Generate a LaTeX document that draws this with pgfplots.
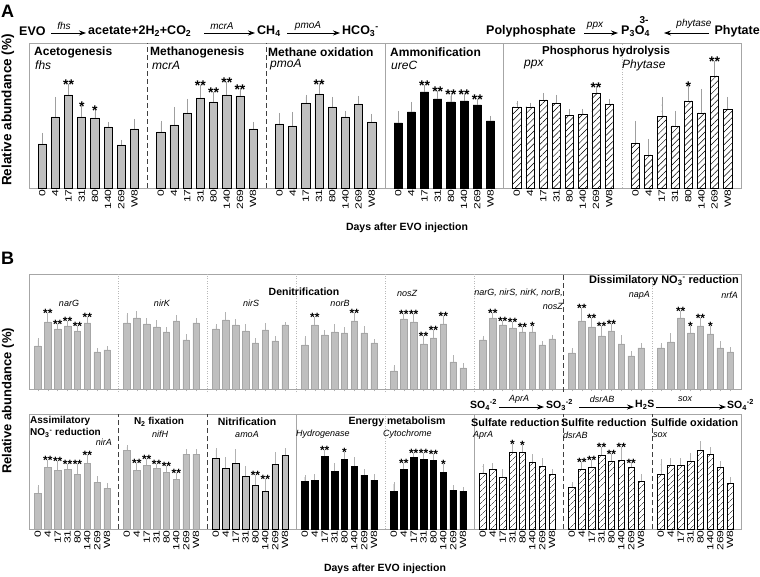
\documentclass[border=0pt]{standalone}
\usepackage{fontspec}
\setmainfont{Liberation Sans}
\newfontfamily\tickfont{Liberation Sans}[FakeStretch=1.35]
\usepackage{pgfplots}
\pgfplotsset{compat=1.18}
\usepackage{pgfplotstable}
\usetikzlibrary{patterns.meta,arrows.meta}
\newcommand\fs[1]{\fontsize{#1}{#1}\selectfont}

% ---------- Panel A data (bar height, upper error, significance) ----------
\pgfplotstableread[row sep=\\]{h e s\\ 44 9 {}\\ 71 18 {}\\ 93 9 **\\ 71 9 *\\ 70 6 *\\ 61 3 {}\\ 43 3 {}\\ 59 8 {}\\}\tfhs
\pgfplotstableread[row sep=\\]{h e s\\ 56 9 {}\\ 63 16 {}\\ 75 12 {}\\ 90 11 **\\ 86 8 **\\ 93 11 **\\ 92 5 **\\ 59 5 {}\\}\tmcrA
\pgfplotstableread[row sep=\\]{h e s\\ 64 9 {}\\ 62 12 {}\\ 85 6 {}\\ 94 8 **\\ 81 8 {}\\ 71 4 {}\\ 84 6 {}\\ 66 6 {}\\}\tpmoA
\pgfplotstableread[row sep=\\]{h e s\\ 65 10 {}\\ 76 8 {}\\ 96 5 **\\ 89 6 **\\ 86 6 **\\ 87 5 **\\ 83 4 **\\ 67 3 {}\\}\tureC
\pgfplotstableread[row sep=\\]{h e s\\ 81 4 {}\\ 81 2 {}\\ 88 5 {}\\ 85 6 {}\\ 73 4 {}\\ 74 3 {}\\ 95 4 **\\ 84 3 {}\\}\tppx
\pgfplotstableread[row sep=\\]{h e s\\ 45 20 {}\\ 33 14 {}\\ 72 17 {}\\ 62 13 {}\\ 87 13 *\\ 75 22 {}\\ 112 13 **\\ 79 10 {}\\}\tphy
% ---------- Panel B, upper row ----------
\pgfplotstableread[row sep=\\]{h e s\\ 43 6 {}\\ 67 7 **\\ 60 3 **\\ 63 3 **\\ 58 3 **\\ 66 4 **\\ 37 2 {}\\ 39 2 {}\\}\tnarG
\pgfplotstableread[row sep=\\]{h e s\\ 66 8 {}\\ 71 5 {}\\ 65 4 {}\\ 62 5 {}\\ 57 3 {}\\ 68 4 {}\\ 49 4 {}\\ 66 3 {}\\}\tnirK
\pgfplotstableread[row sep=\\]{h e s\\ 60 3 {}\\ 69 6 {}\\ 64 4 {}\\ 58 5 {}\\ 46 3 {}\\ 59 5 {}\\ 48 3 {}\\ 64 1 {}\\}\tnirS
\pgfplotstableread[row sep=\\]{h e s\\ 44 7 {}\\ 64 6 **\\ 54 3 {}\\ 57 6 {}\\ 56 4 {}\\ 68 6 **\\ 56 5 {}\\ 46 2 {}\\}\tnorB
\pgfplotstableread[row sep=\\]{h e s\\ 18 4 {}\\ 70 3 **\\ 67 6 **\\ 45 6 **\\ 51 6 **\\ 65 6 **\\ 27 5 {}\\ 21 3 {}\\}\tnosZ
\pgfplotstableread[row sep=\\]{h e s\\ 49 2 {}\\ 71 3 **\\ 64 2 **\\ 61 4 **\\ 57 3 **\\ 57 4 *\\ 44 2 {}\\ 50 2 {}\\}\tcomb
\pgfplotstableread[row sep=\\]{h e s\\ 36 3 {}\\ 68 11 **\\ 62 7 **\\ 53 8 **\\ 58 5 **\\ 45 7 {}\\ 33 3 {}\\ 41 3 {}\\}\tnapA
\pgfplotstableread[row sep=\\]{h e s\\ 41 3 {}\\ 47 7 {}\\ 71 5 **\\ 56 5 *\\ 63 6 **\\ 55 6 *\\ 41 5 {}\\ 37 3 {}\\}\tnrfA
% ---------- Panel B, lower row ----------
\pgfplotstableread[row sep=\\]{h e s\\ 36 6 {}\\ 62 5 **\\ 59 7 **\\ 60 3 **\\ 55 8 **\\ 66 6 **\\ 47 4 {}\\ 41 3 {}\\}\tnirA
\pgfplotstableread[row sep=\\]{h e s\\ 79 3 {}\\ 59 5 **\\ 64 4 **\\ 61 2 **\\ 57 4 **\\ 50 4 **\\ 75 3 {}\\ 75 3 {}\\}\tnifH
\pgfplotstableread[row sep=\\]{h e s\\ 71 8 {}\\ 61 9 {}\\ 66 12 {}\\ 53 8 {}\\ 44 8 **\\ 38 10 **\\ 65 10 {}\\ 74 5 {}\\}\tamoA
\pgfplotstableread[row sep=\\]{h e s\\ 48 4 {}\\ 49 4 {}\\ 73 4 **\\ 58 6 {}\\ 70 5 *\\ 63 7 {}\\ 54 4 {}\\ 49 4 {}\\}\thyd
\pgfplotstableread[row sep=\\]{h e s\\ 38 7 {}\\ 60 4 **\\ 72 2 **\\ 70 4 **\\ 69 4 **\\ 57 6 *\\ 39 3 {}\\ 38 2 {}\\}\tcyt
\pgfplotstableread[row sep=\\]{h e s\\ 56 7 {}\\ 60 4 {}\\ 52 6 {}\\ 77 6 *\\ 77 5 *\\ 67 6 {}\\ 63 6 {}\\ 55 3 {}\\}\taprA
\pgfplotstableread[row sep=\\]{h e s\\ 42 3 {}\\ 60 5 **\\ 62 5 **\\ 74 6 **\\ 68 5 **\\ 69 11 **\\ 62 2 **\\ 48 5 {}\\}\tdsr
\pgfplotstableread[row sep=\\]{h e s\\ 55 13 {}\\ 64 5 {}\\ 64 5 {}\\ 68 6 {}\\ 79 7 {}\\ 75 5 {}\\ 62 4 {}\\ 46 4 {}\\}\tsox

\pgfplotsset{
 Aerr/.style={error bars/y dir=plus, error bars/y explicit,
   error bars/error bar style={draw=gray!75, line width=0.7pt, solid},
   error bars/error mark options={draw=gray!75, line width=0.7pt, mark size=2.2pt, solid}},
 Berr/.style={error bars/y dir=plus, error bars/y explicit,
   error bars/error bar style={draw=gray!60, line width=0.6pt, solid},
   error bars/error mark options={draw=gray!60, line width=0.6pt, mark size=1.8pt, solid}},
 Abar/.style={ybar, bar shift=0pt, bar width=8.2pt, line width=0.7pt, draw=black},
 Agray/.style={Abar, fill=gray!50, Aerr},
 Ablk/.style={Abar, fill=black, Aerr},
 Ahat/.style={Abar, pattern={Lines[angle=45,distance=4.5pt,line width=0.5pt]}, Aerr},
 Bbar/.style={ybar, bar shift=0pt, bar width=6.5pt, line width=0.6pt},
 Bgray/.style={Bbar, fill=gray!50, draw=gray!70, Berr},
 Bgrayk/.style={Bbar, fill=gray!50, draw=black, Berr},
 Bblk/.style={Bbar, fill=black, draw=black, Berr},
 Bhat/.style={Bbar, draw=black, pattern={Lines[angle=45,distance=4pt,line width=0.45pt]}, Berr},
 Astars/.style={draw=none, mark=none, nodes near coords, point meta=explicit symbolic,
   nodes near coords style={font=\bfseries\fs{14}, anchor=south, inner sep=0pt, yshift=-3.5pt, text=black}},
 Bstars/.style={draw=none, mark=none, nodes near coords, point meta=explicit symbolic,
   nodes near coords style={font=\bfseries\fs{12}, anchor=south, inner sep=0pt, yshift=-3pt, text=black}},
 rowaxis/.style={scale only axis, width=712pt, ymin=0, clip=false, ytick=\empty,
   axis line style={draw=gray!70, line width=0.7pt},
   xticklabel style={font=\tickfont\fs{9}, rotate=90, anchor=east, inner sep=1.2pt},
   /pgf/number format/assume math mode=true},
}
\newcommand\bars[4]{%
 \addplot[#2] table[x expr=\coordindex+#1, y=h, y error=e]{#4};
 \addplot[#3] table[x expr=\coordindex+#1, y expr=\thisrow{h}+\thisrow{e}, meta=s]{#4};
}
\tikzset{dv/.style={black!75, line width=0.7pt, dash pattern=on 5pt off 3pt},
 dt/.style={gray!55, line width=0.6pt, dash pattern=on 1pt off 1.5pt},
 sl/.style={gray!70, line width=0.7pt},
 ar/.style={line width=0.8pt, -{Stealth[length=7pt,width=5pt]}}}

\begin{document}
\begin{tikzpicture}
\useasboundingbox (0,0) rectangle (760pt,576pt);
% ================= Panel A =================
\begin{axis}[rowaxis, at={(29pt,388pt)}, anchor=south west, height=145pt, xmin=0, xmax=54, ymax=145,
 major tick length=0pt,
 xtick={1,2,3,4,5,6,7,8,10,11,12,13,14,15,16,17,19,20,21,22,23,24,25,26,28,29,30,31,32,33,34,35,37,38,39,40,41,42,43,44,46,47,48,49,50,51,52,53},
 xticklabels={0,4,17,31,80,140,269,W8,0,4,17,31,80,140,269,W8,0,4,17,31,80,140,269,W8,0,4,17,31,80,140,269,W8,0,4,17,31,80,140,269,W8,0,4,17,31,80,140,269,W8}]
\bars{1}{Agray}{Astars}{\tfhs}
\bars{10}{Agray}{Astars}{\tmcrA}
\bars{19}{Agray}{Astars}{\tpmoA}
\bars{28}{Ablk}{Astars}{\tureC}
\bars{37}{Ahat}{Astars}{\tppx}
\bars{46}{Ahat}{Astars}{\tphy}
\draw[dv] (axis cs:9,0) -- (axis cs:9,145);
\draw[dv] (axis cs:18,0) -- (axis cs:18,145);
\draw[sl] (axis cs:27,0) -- (axis cs:27,145);
\draw[sl] (axis cs:36,0) -- (axis cs:36,145);
\draw[dt] (axis cs:45,0) -- (axis cs:45,145);
\end{axis}
% ================= Panel B upper row =================
\begin{axis}[rowaxis, at={(29pt,187pt)}, anchor=south west, height=115pt, xmin=0.1, xmax=72.1, ymax=115,
 major tick length=2.5pt, tick align=outside, xtick pos=bottom, tick style={gray!60, line width=0.5pt},
 xtick={1,2,3,4,5,6,7,8,10,11,12,13,14,15,16,17,19,20,21,22,23,24,25,26,28,29,30,31,32,33,34,35,37,38,39,40,41,42,43,44,46,47,48,49,50,51,52,53,55,56,57,58,59,60,61,62,64,65,66,67,68,69,70,71},
 xticklabels={}]
\bars{1}{Bgray}{Bstars}{\tnarG}
\bars{10}{Bgray}{Bstars}{\tnirK}
\bars{19}{Bgray}{Bstars}{\tnirS}
\bars{28}{Bgray}{Bstars}{\tnorB}
\bars{37}{Bgray}{Bstars}{\tnosZ}
\bars{46}{Bgray}{Bstars}{\tcomb}
\bars{55}{Bgray}{Bstars}{\tnapA}
\bars{64}{Bgray}{Bstars}{\tnrfA}
\draw[dt] (axis cs:9.1,-3) -- (axis cs:9.1,115);
\draw[dt] (axis cs:18.1,-3) -- (axis cs:18.1,115);
\draw[dt] (axis cs:27.1,-3) -- (axis cs:27.1,115);
\draw[dt] (axis cs:36.1,-3) -- (axis cs:36.1,115);
\draw[dt] (axis cs:45.1,-3) -- (axis cs:45.1,115);
\draw[dv] (axis cs:54.1,-3) -- (axis cs:54.1,115);
\draw[dt] (axis cs:63.1,-3) -- (axis cs:63.1,115);
\end{axis}
% ================= Panel B lower row =================
\begin{axis}[rowaxis, at={(29pt,47pt)}, anchor=south west, height=115pt, xmin=0.1, xmax=72.1, ymax=115,
 major tick length=0pt,
 xtick={1,2,3,4,5,6,7,8,10,11,12,13,14,15,16,17,19,20,21,22,23,24,25,26,28,29,30,31,32,33,34,35,37,38,39,40,41,42,43,44,46,47,48,49,50,51,52,53,55,56,57,58,59,60,61,62,64,65,66,67,68,69,70,71},
 xticklabels={0,4,17,31,80,140,269,W8,0,4,17,31,80,140,269,W8,0,4,17,31,80,140,269,W8,0,4,17,31,80,140,269,W8,0,4,17,31,80,140,269,W8,0,4,17,31,80,140,269,W8,0,4,17,31,80,140,269,W8,0,4,17,31,80,140,269,W8}]
\bars{1}{Bgray}{Bstars}{\tnirA}
\bars{10}{Bgray}{Bstars}{\tnifH}
\bars{19}{Bgrayk}{Bstars}{\tamoA}
\bars{28}{Bblk}{Bstars}{\thyd}
\bars{37}{Bblk}{Bstars}{\tcyt}
\bars{46}{Bhat}{Bstars}{\taprA}
\bars{55}{Bhat}{Bstars}{\tdsr}
\bars{64}{Bhat}{Bstars}{\tsox}
\draw[dv] (axis cs:9.1,0) -- (axis cs:9.1,115);
\draw[dv] (axis cs:18.1,0) -- (axis cs:18.1,115);
\draw[sl] (axis cs:27.1,0) -- (axis cs:27.1,115);
\draw[dt] (axis cs:36.1,0) -- (axis cs:36.1,115);
\draw[sl] (axis cs:45.1,0) -- (axis cs:45.1,115);
\draw[dv] (axis cs:54.1,0) -- (axis cs:54.1,115);
\draw[dv] (axis cs:63.1,0) -- (axis cs:63.1,115);
\end{axis}
% ================= Texts (image pixel coordinates, y downward) =================
\begin{scope}[x=1pt,y=-1pt,shift={(0pt,576pt)}]
\node[font=\bfseries\fs{18}, anchor=west, inner sep=0pt] at (1,11) {A};
\node[font=\bfseries\fs{18}, anchor=west, inner sep=0pt] at (1,258) {B};
% pathway A
\node[anchor=west, font=\bfseries\fs{12.5}, inner sep=0pt] at (19,31) {EVO};
\draw[ar] (51,33) -- (86,33);
\node[font=\itshape\fs{10}] at (64,26) {fhs};
\node[anchor=west, font=\bfseries\fs{12.5}, inner sep=0pt] at (88,31) {acetate+2H\textsubscript{2}+CO\textsubscript{2}};
\draw[ar] (204,33) -- (255,33);
\node[font=\itshape\fs{10}] at (222,26) {mcrA};
\node[anchor=west, font=\bfseries\fs{12.5}, inner sep=0pt] at (257,31) {CH\textsubscript{4}};
\draw[ar] (287,33) -- (340,33);
\node[font=\itshape\fs{10}] at (308,26) {pmoA};
\node[anchor=west, font=\bfseries\fs{12.5}, inner sep=0pt] at (342,31) {HCO\textsubscript{3}\textsuperscript{-}};
\node[anchor=west, font=\bfseries\fs{12.5}, inner sep=0pt] at (486,31) {Polyphosphate};
\draw[ar] (584,33) -- (618,33);
\node[font=\itshape\fs{10}] at (595,26) {ppx};
\node[anchor=west, font=\bfseries\fs{12.5}, inner sep=0pt] at (621,31) {P\textsubscript{3}O\textsubscript{4}};
\node[font=\bfseries\fs{10}] at (644,20) {3-};
\draw[ar] (709,33) -- (664,33);
\node[font=\itshape\fs{10}] at (694,24) {phytase};
\node[anchor=east, font=\bfseries\fs{12.5}, inner sep=0pt] at (760,31) {Phytate};
% titles A
\node[anchor=west, font=\bfseries\fs{12}, inner sep=0pt] at (34,52) {Acetogenesis};
\node[anchor=west, font=\itshape\fs{12}, inner sep=0pt] at (35,65) {fhs};
\node[anchor=west, font=\bfseries\fs{12}, inner sep=0pt] at (150,52) {Methanogenesis};
\node[anchor=west, font=\itshape\fs{12}, inner sep=0pt] at (152,65) {mcrA};
\node[anchor=west, font=\bfseries\fs{12}, inner sep=0pt] at (268,52) {Methane oxidation};
\node[anchor=west, font=\itshape\fs{12}, inner sep=0pt] at (270,65) {pmoA};
\node[anchor=west, font=\bfseries\fs{12}, inner sep=0pt] at (390,52) {Ammonification};
\node[anchor=west, font=\itshape\fs{12}, inner sep=0pt] at (391,65) {ureC};
\node[font=\bfseries\fs{11.5}, inner sep=0pt] at (606,52) {Phosphorus hydrolysis};
\node[anchor=west, font=\itshape\fs{12}, inner sep=0pt] at (524,65) {ppx};
\node[anchor=west, font=\itshape\fs{12}, inner sep=0pt] at (622,65) {Phytase};
\node[font=\bfseries\fs{10.5}] at (407,228) {Days after EVO injection};
\node[font=\bfseries\fs{13.5}, rotate=90] at (8,110) {Relative abundance (\%)};
% B upper labels
\node[font=\bfseries\fs{10.5}] at (304,292) {Denitrification};
\node[font=\itshape\fs{9}] at (69,303) {narG};
\node[font=\itshape\fs{9}] at (162,303) {nirK};
\node[font=\itshape\fs{9}] at (251,303) {nirS};
\node[font=\itshape\fs{9}] at (340,303) {norB};
\node[anchor=west, font=\itshape\fs{9}, inner sep=0pt] at (397,293) {nosZ};
\node[anchor=east, font=\itshape\fs{9}, inner sep=0pt] at (563,293) {narG, nirS, nirK, norB,};
\node[anchor=east, font=\itshape\fs{9}, inner sep=0pt] at (563,306) {nosZ};
\node[anchor=east, font=\bfseries\fs{11}, inner sep=0pt] at (739,281) {Dissimilatory NO\textsubscript{3}\textsuperscript{-} reduction};
\node[anchor=east, font=\itshape\fs{9}, inner sep=0pt] at (650,295) {napA};
\node[anchor=east, font=\itshape\fs{9}, inner sep=0pt] at (738,295) {nrfA};
% B lower labels
\node[anchor=west, font=\bfseries\fs{10}, inner sep=0pt] at (30,421) {Assimilatory};
\node[anchor=west, font=\bfseries\fs{10}, inner sep=0pt] at (30,433) {NO\textsubscript{3}\textsuperscript{-} reduction};
\node[anchor=east, font=\itshape\fs{9}, inner sep=0pt] at (112,442) {nirA};
\node[font=\bfseries\fs{10}, inner sep=0pt] at (159,422) {N\textsubscript{2} fixation};
\node[font=\itshape\fs{9}, inner sep=0pt] at (160,434) {nifH};
\node[font=\bfseries\fs{10.5}, inner sep=0pt] at (247,422) {Nitrification};
\node[font=\itshape\fs{9}, inner sep=0pt] at (247,434) {amoA};
\node[font=\bfseries\fs{10.5}, inner sep=0pt] at (397,422) {Energy metabolism};
\node[anchor=west, font=\itshape\fs{9}, inner sep=0pt] at (296,434) {Hydrogenase};
\node[anchor=west, font=\itshape\fs{9}, inner sep=0pt] at (383,434) {Cytochrome};
\node[anchor=west, font=\bfseries\fs{10.8}, inner sep=0pt] at (471,423) {Sulfate reduction};
\node[anchor=west, font=\itshape\fs{9}, inner sep=0pt] at (473,435) {AprA};
\node[anchor=west, font=\bfseries\fs{10.8}, inner sep=0pt] at (561,423) {Sulfite reduction};
\node[anchor=west, font=\itshape\fs{9}, inner sep=0pt] at (563,435) {dsrAB};
\node[anchor=west, font=\bfseries\fs{10.8}, inner sep=0pt] at (651,423) {Sulfide oxidation};
\node[anchor=west, font=\itshape\fs{9}, inner sep=0pt] at (653,435) {sox};
% sulfur pathway
\node[anchor=west, font=\bfseries\fs{10.5}, inner sep=0pt] at (470,405) {SO\textsubscript{4}\textsuperscript{-2}};
\draw[ar] (499,407) -- (544,407);
\node[font=\itshape\fs{9}] at (519,399) {AprA};
\node[anchor=west, font=\bfseries\fs{10.5}, inner sep=0pt] at (546,405) {SO\textsubscript{3}\textsuperscript{-2}};
\draw[ar] (579,407) -- (634,407);
\node[font=\itshape\fs{9}] at (602,399) {dsrAB};
\node[anchor=west, font=\bfseries\fs{10.5}, inner sep=0pt] at (635,405) {H\textsubscript{2}S};
\draw[ar] (656,407) -- (726,407);
\node[font=\itshape\fs{9}] at (685,399) {sox};
\node[anchor=west, font=\bfseries\fs{10.5}, inner sep=0pt] at (727,405) {SO\textsubscript{4}\textsuperscript{-2}};
\node[font=\bfseries\fs{10.5}] at (385,569) {Days after EVO injection};
\node[font=\bfseries\fs{13}, rotate=90] at (8,401) {Relative abundance (\%)};
\end{scope}
\end{tikzpicture}
\end{document}
